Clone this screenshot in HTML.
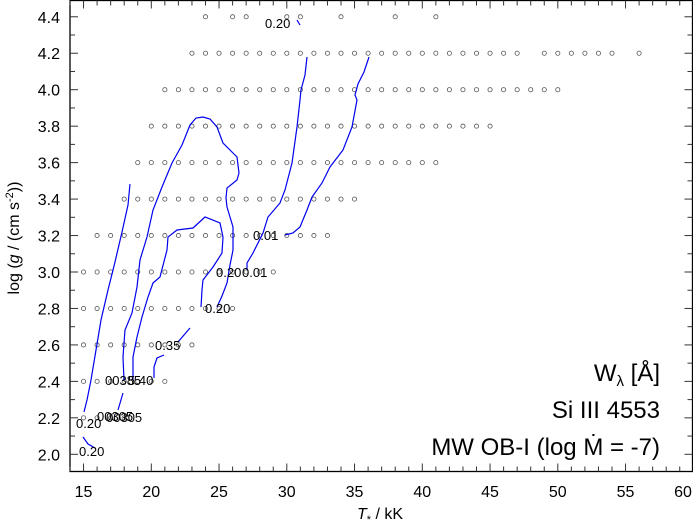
<!DOCTYPE html>
<html><head><meta charset="utf-8"><style>
html,body{margin:0;padding:0;background:#fff}
svg{display:block;font-family:"Liberation Sans",sans-serif}
</style></head><body>
<svg id="s" width="693" height="524" viewBox="0 0 693 524" xmlns="http://www.w3.org/2000/svg">
<rect x="70" y="0.5" width="622.5" height="471" fill="none" stroke="#000" stroke-width="1.3"/>
<g id="ticks"></g>
<g id="dots" fill="none" stroke="#555" stroke-width="0.8"></g>
<g fill="none" stroke="#0000ee" stroke-width="1.2">
<polyline points="130,184 128,205 122,232 115,262 108,290 101,320 96,350 91,380 87,400 84,412"/>
<polyline points="83,437 88,444 95,448"/>
<polyline points="124,380 123,357 125,330 132,313 137,287 140,260 147,237 153,210 162,187 172,163 182,145 190,125 196,118 203,117 210,119 217,127 223,143 237,157 239,173 237,180 227,188 226,198 227,207 233,227 233,250 230,265 227,283 222,296 217,307"/>
<polyline points="133,380 133,357 137,337 142,317 148,297 153,283 160,277 167,250 168,237 177,230 193,228 205,217 220,223 223,237 222,253 213,267 203,280 202,290 201,307"/>
<polyline points="190,328 178,342"/>
<polyline points="164,355 157,358 154,367 154,378"/>
<polyline points="123,393 118,410"/>
<polyline points="307,57 305,75 301,90 300,100 297,127 292,163 285,190 280,203 268,217 263,233 253,253 247,263 247,270"/>
<polyline points="369,57 364,72 358,84 355,95 357,100 352,127 343,150 330,167 322,183 312,197 307,210 300,227 293,233 285,235"/>
<polyline points="297,20 300,25"/>
</g>
<g font-size="13" fill="#000">
<text x="265" y="28">0.20</text>
<text x="76" y="428">0.20</text>
<text x="79" y="456">0.20</text>
<text x="97" y="421">00305</text>
<text x="106" y="422">00305</text>
<text x="105" y="385">00385</text>
<text x="128" y="385">5.40</text>
<text x="155" y="350">0.35</text>
<text x="205" y="313">0.20</text>
<text x="216" y="277">0.20</text>
<text x="242" y="277">0.01</text>
<text x="253" y="240">0.01</text>
</g>
<g font-size="16" fill="#000" id="labels"></g>
<g font-size="24" fill="#000" text-anchor="end">
<text x="660" y="381">W<tspan font-size="15" dy="5">λ</tspan><tspan dy="-5"> [Å]</tspan></text>
<text x="660" y="418">Si III 4553</text>
<text x="660" y="455">MW OB-I (log Ṁ = -7)</text>
</g>
<text x="380" y="519" font-size="16" text-anchor="middle"><tspan font-style="italic">T</tspan><tspan font-size="11" dy="4">*</tspan><tspan dy="-4"> / kK</tspan></text>
<text transform="translate(19,238) rotate(-90)" font-size="16" text-anchor="middle">log (<tspan font-style="italic">g</tspan> / (cm s<tspan font-size="11" dy="-6">-2</tspan><tspan dy="6">))</tspan></text>
</svg>
<script>
var NS="http://www.w3.org/2000/svg";
function X(t){return 70+(t-14)*13.55}
function Y(g){return 454.3-(g-2)*182.3}
function el(p,n,a){var e=document.createElementNS(NS,n);for(var k in a)e.setAttribute(k,a[k]);p.appendChild(e);return e}
var tk=document.getElementById("ticks"),lb=document.getElementById("labels");
for(var t=14;t<=60;t++){var x=X(t),L=(t%5==0)?8:5;
el(tk,"line",{x1:x,x2:x,y1:471.5,y2:471.5-L,stroke:"#333","stroke-width":1});
el(tk,"line",{x1:x,x2:x,y1:0.5,y2:0.5+L,stroke:"#333","stroke-width":1});
if(t%5==0){var s=el(lb,"text",{x:(t==60?683:x),y:497,"text-anchor":"middle"});s.textContent=t;}}
for(var i=0;i<=25;i++){var g=1.9+i*0.1,y=Y(g);if(y<1||y>471)continue;var maj=(Math.round(g*10)%2==0),L=maj?8:5;
el(tk,"line",{x1:70,x2:70+L,y1:y,y2:y,stroke:"#333","stroke-width":1});
el(tk,"line",{x1:692.5,x2:692.5-L,y1:y,y2:y,stroke:"#333","stroke-width":1});
if(maj){var s=el(lb,"text",{x:60,y:y+6,"text-anchor":"end"});s.textContent=g.toFixed(1);}}
var rows={4.4:[24,26,27,30,31,34,38,41],4.2:[],4.0:[],3.8:[],3.6:[],3.4:[],3.2:[],3.0:[],2.8:[],2.6:[],2.4:[],2.2:[15,16,17,18],2.0:[]};
function rng(a,b){var r=[];for(var i=a;i<=b;i++)r.push(i);return r}
rows[4.2]=rng(23,47).concat(rng(49,54),[56]);rows[4.0]=rng(21,50);rows[3.8]=rng(20,45);rows[3.6]=rng(19,41);
rows[3.4]=rng(18,35);rows[3.2]=rng(16,33);rows[3.0]=rng(15,29);rows[2.8]=rng(15,26);rows[2.6]=rng(15,23);rows[2.4]=rng(15,21);
var dg=document.getElementById("dots");
for(var k in rows)rows[k].forEach(function(t){el(dg,"circle",{cx:X(t),cy:Y(parseFloat(k)),r:2.1})});
</script>
</body></html>
